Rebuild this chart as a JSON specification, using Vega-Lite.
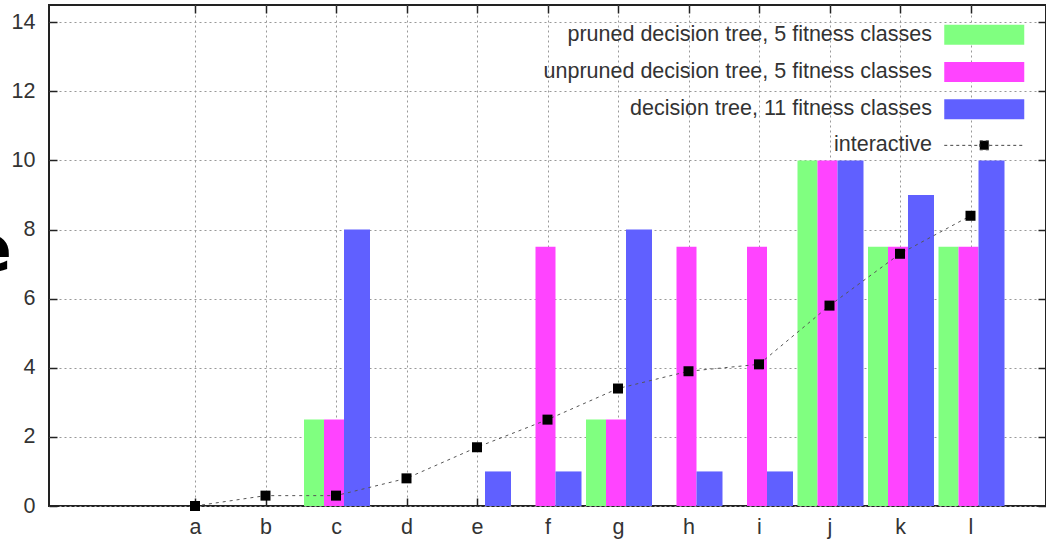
{
  "$schema": "https://vega.github.io/schema/vega-lite/v6.json",
  "width": 997,
  "height": 501,
  "autosize": {"type": "none"},
  "padding": {"left": 49, "top": 5, "right": 0, "bottom": 33},
  "background": "white",
  "config": {
    "view": {"stroke": "#222", "strokeWidth": 2},
    "font": "Liberation Sans",
    "axis": {
      "domain": false,
      "gridColor": "#999",
      "gridDash": [2, 3],
      "gridWidth": 1,
      "tickColor": "#222",
      "tickWidth": 1.5,
      "tickSize": -8,
      "labelFont": "Liberation Sans",
      "labelFontSize": 21.5,
      "labelColor": "#333",
      "title": null
    }
  },
  "resolve": {"axis": {"x": "independent", "y": "independent"}},
  "data": {
    "values": [
      {"cat": "c", "idx": 2, "series": "pruned decision tree, 5 fitness classes", "value": 2.5},
      {"cat": "g", "idx": 6, "series": "pruned decision tree, 5 fitness classes", "value": 2.5},
      {"cat": "j", "idx": 9, "series": "pruned decision tree, 5 fitness classes", "value": 10},
      {"cat": "k", "idx": 10, "series": "pruned decision tree, 5 fitness classes", "value": 7.5},
      {"cat": "l", "idx": 11, "series": "pruned decision tree, 5 fitness classes", "value": 7.5},
      {"cat": "c", "idx": 2, "series": "unpruned decision tree, 5 fitness classes", "value": 2.5},
      {"cat": "f", "idx": 5, "series": "unpruned decision tree, 5 fitness classes", "value": 7.5},
      {"cat": "g", "idx": 6, "series": "unpruned decision tree, 5 fitness classes", "value": 2.5},
      {"cat": "h", "idx": 7, "series": "unpruned decision tree, 5 fitness classes", "value": 7.5},
      {"cat": "i", "idx": 8, "series": "unpruned decision tree, 5 fitness classes", "value": 7.5},
      {"cat": "j", "idx": 9, "series": "unpruned decision tree, 5 fitness classes", "value": 10},
      {"cat": "k", "idx": 10, "series": "unpruned decision tree, 5 fitness classes", "value": 7.5},
      {"cat": "l", "idx": 11, "series": "unpruned decision tree, 5 fitness classes", "value": 7.5},
      {"cat": "c", "idx": 2, "series": "decision tree, 11 fitness classes", "value": 8},
      {"cat": "e", "idx": 4, "series": "decision tree, 11 fitness classes", "value": 1},
      {"cat": "f", "idx": 5, "series": "decision tree, 11 fitness classes", "value": 1},
      {"cat": "g", "idx": 6, "series": "decision tree, 11 fitness classes", "value": 8},
      {"cat": "h", "idx": 7, "series": "decision tree, 11 fitness classes", "value": 1},
      {"cat": "i", "idx": 8, "series": "decision tree, 11 fitness classes", "value": 1},
      {"cat": "j", "idx": 9, "series": "decision tree, 11 fitness classes", "value": 10},
      {"cat": "k", "idx": 10, "series": "decision tree, 11 fitness classes", "value": 9},
      {"cat": "l", "idx": 11, "series": "decision tree, 11 fitness classes", "value": 10},
      {"cat": "a", "idx": 0, "series": "interactive", "value": 0},
      {"cat": "b", "idx": 1, "series": "interactive", "value": 0.3},
      {"cat": "c", "idx": 2, "series": "interactive", "value": 0.3},
      {"cat": "d", "idx": 3, "series": "interactive", "value": 0.8},
      {"cat": "e", "idx": 4, "series": "interactive", "value": 1.7},
      {"cat": "f", "idx": 5, "series": "interactive", "value": 2.5},
      {"cat": "g", "idx": 6, "series": "interactive", "value": 3.4},
      {"cat": "h", "idx": 7, "series": "interactive", "value": 3.9},
      {"cat": "i", "idx": 8, "series": "interactive", "value": 4.1},
      {"cat": "j", "idx": 9, "series": "interactive", "value": 5.8},
      {"cat": "k", "idx": 10, "series": "interactive", "value": 7.3},
      {"cat": "l", "idx": 11, "series": "interactive", "value": 8.4}
    ]
  },
  "encoding": {
    "x": {
      "field": "idx",
      "type": "quantitative",
      "scale": {"domain": [-2, 12], "nice": false, "zero": false},
      "axis": null
    },
    "y": {
      "field": "value",
      "type": "quantitative",
      "scale": {"domain": [0, 14.5], "nice": false},
      "axis": null
    }
  },
  "layer": [
    {
      "transform": [{"filter": "datum.series === 'pruned decision tree, 5 fitness classes'"}],
      "mark": {"type": "bar", "width": 20, "xOffset": -22},
      "encoding": {
        "x": {
          "field": "idx",
          "type": "quantitative",
          "scale": {"domain": [-2, 12], "nice": false, "zero": false},
          "axis": {
            "orient": "bottom",
            "grid": true,
            "values": [0, 1, 2, 3, 4, 5, 6, 7, 8, 9, 10, 11],
            "labelExpr": "['a','b','c','d','e','f','g','h','i','j','k','l'][datum.value]",
            "labelPadding": 18
          }
        },
        "y": {
          "field": "value",
          "type": "quantitative",
          "scale": {"domain": [0, 14.5], "nice": false},
          "axis": {
            "orient": "left",
            "grid": true,
            "values": [0, 2, 4, 6, 8, 10, 12, 14],
            "labelPadding": 22,
            "title": "e",
            "titleFont": "DejaVu Sans",
            "titleFontWeight": "bold",
            "titleFontSize": 64,
            "titleColor": "#000",
            "titleAngle": 0,
            "titleAlign": "right",
            "titleBaseline": "alphabetic",
            "titleX": -37.6,
            "titleY": 265
          }
        },
        "color": {
          "field": "series",
          "type": "nominal",
          "scale": {
            "domain": ["pruned decision tree, 5 fitness classes", "unpruned decision tree, 5 fitness classes", "decision tree, 11 fitness classes", "interactive"],
            "range": ["#80ff80", "#ff44ff", "#6060ff", "#000000"]
          },
          "legend": {
            "orient": "top-right",
            "offset": 19,
            "padding": 0,
            "title": null,
            "symbolType": "M-4,-1H4V1H-4Z",
            "symbolSize": 400,
            "symbolStrokeWidth": 1,
            "symbolOpacity": 1,
            "symbolOffset": 42.5,
            "labelAlign": "right",
            "labelOffset": -63,
            "labelFontSize": 21.5,
            "labelFont": "Liberation Sans",
            "labelColor": "#333",
            "labelLimit": 600,
            "rowPadding": 12.2,
            "encode": {
              "symbols": {
                "update": {
                  "shape": {"signal": "datum.value === 'interactive' ? 'M-4,0H-0.5M0.5,0H4M-0.45,-0.45H0.45V0.45H-0.45Z' : 'M-4,-1H4V1H-4Z'"},
                  "stroke": {"signal": "datum.value === 'interactive' ? '#444' : 'transparent'"},
                  "strokeDash": {"signal": "datum.value === 'interactive' ? [3,3] : [1,0]"}
                }
              }
            }
          }
        }
      }
    },
    {
      "transform": [{"filter": "datum.series === 'unpruned decision tree, 5 fitness classes'"}],
      "mark": {"type": "bar", "width": 20, "xOffset": -2},
      "encoding": {"color": {"field": "series", "type": "nominal"}}
    },
    {
      "transform": [{"filter": "datum.series === 'decision tree, 11 fitness classes'"}],
      "mark": {"type": "bar", "width": 26, "xOffset": 21},
      "encoding": {"color": {"field": "series", "type": "nominal"}}
    },
    {
      "transform": [{"filter": "datum.series === 'interactive'"}],
      "mark": {"type": "line", "color": "#555", "strokeWidth": 1, "strokeDash": [3, 4]},
      "encoding": {
        "x": {
          "field": "idx",
          "type": "quantitative",
          "scale": {"domain": [-2, 12], "nice": false, "zero": false},
          "axis": {"orient": "top", "grid": false, "labels": false, "values": [0, 1, 2, 3, 4, 5, 6, 7, 8, 9, 10, 11]}
        },
        "y": {
          "field": "value",
          "type": "quantitative",
          "scale": {"domain": [0, 14.5], "nice": false},
          "axis": {"orient": "right", "grid": false, "labels": false, "values": [0, 2, 4, 6, 8, 10, 12, 14]}
        }
      }
    },
    {
      "transform": [{"filter": "datum.series === 'interactive'"}],
      "mark": {"type": "square", "size": 100, "opacity": 1, "filled": true},
      "encoding": {"color": {"field": "series", "type": "nominal"}}
    }
  ]
}
